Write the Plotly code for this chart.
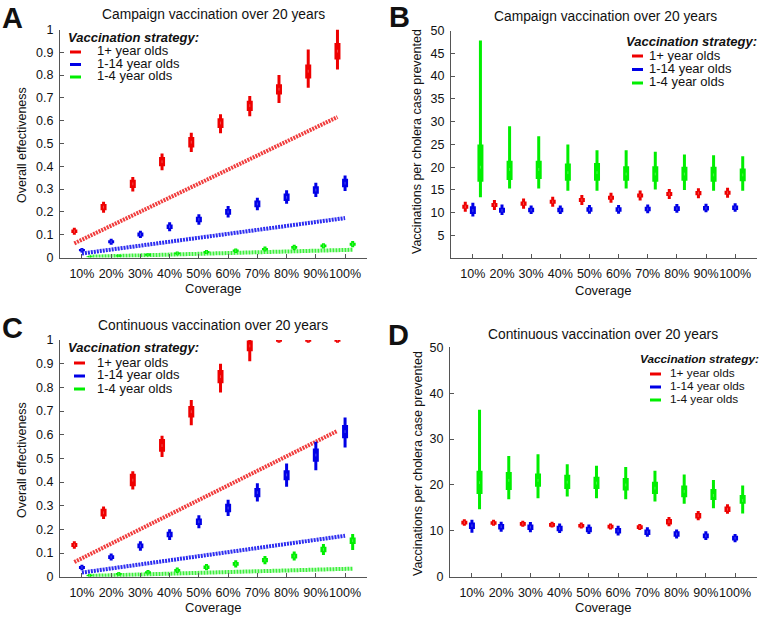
import plotly.graph_objects as go

W, H = 777, 618
FONT = "Liberation Sans, Arial, sans-serif"

coverage_labels = ["10%", "20%", "30%", "40%", "50%", "60%", "70%", "80%", "90%", "100%"]
positions = [1, 2, 3, 4, 5, 6, 7, 8, 9, 10]
strategies = ["1+ year olds", "1-14 year olds", "1-4 year olds"]

# ---------------- Panel A: campaign, overall effectiveness ----------------
A_red_med = [0.115, 0.221, 0.323, 0.420, 0.506, 0.590, 0.666, 0.738, 0.817, 0.905]
A_red_q1 = [0.107, 0.207, 0.305, 0.400, 0.482, 0.568, 0.643, 0.715, 0.785, 0.868]
A_red_q3 = [0.123, 0.235, 0.341, 0.441, 0.528, 0.611, 0.688, 0.760, 0.846, 0.941]
A_red_lo = [0.100, 0.196, 0.290, 0.383, 0.463, 0.545, 0.620, 0.678, 0.745, 0.825]
A_red_hi = [0.130, 0.245, 0.353, 0.456, 0.547, 0.628, 0.708, 0.800, 0.912, 1.000]

A_blue_med = [0.032, 0.069, 0.101, 0.135, 0.167, 0.200, 0.235, 0.264, 0.296, 0.326]
A_blue_q1 = [0.027, 0.062, 0.092, 0.125, 0.155, 0.187, 0.220, 0.248, 0.280, 0.308]
A_blue_q3 = [0.037, 0.076, 0.110, 0.145, 0.179, 0.213, 0.250, 0.281, 0.313, 0.345]
A_blue_lo = [0.022, 0.056, 0.085, 0.115, 0.144, 0.175, 0.207, 0.236, 0.265, 0.292]
A_blue_hi = [0.042, 0.082, 0.117, 0.155, 0.190, 0.226, 0.262, 0.295, 0.328, 0.360]

A_green_med = [0.004, 0.007, 0.012, 0.018, 0.024, 0.030, 0.037, 0.044, 0.051, 0.058]
A_green_q1 = [0.001, 0.004, 0.008, 0.014, 0.019, 0.025, 0.032, 0.038, 0.045, 0.051]
A_green_q3 = [0.006, 0.010, 0.016, 0.022, 0.029, 0.035, 0.042, 0.050, 0.057, 0.065]
A_green_lo = [0.000, 0.002, 0.005, 0.010, 0.015, 0.020, 0.026, 0.032, 0.039, 0.045]
A_green_hi = [0.008, 0.013, 0.019, 0.026, 0.033, 0.040, 0.048, 0.056, 0.063, 0.072]

# direct-effect reference lines (10% and 100% coverage)
direct_red = [0.062, 0.616]
direct_blue = [0.0175, 0.173]
direct_green = [0.0035, 0.034]

# ---------------- Panel B: campaign, vaccinations per case prevented ----------------
B_red_med = [11.3, 11.7, 12.0, 12.4, 12.8, 13.3, 13.8, 14.1, 14.3, 14.4]
B_red_q1 = [10.85, 11.25, 11.55, 11.95, 12.35, 12.85, 13.35, 13.65, 13.85, 13.95]
B_red_q3 = [11.75, 12.15, 12.45, 12.85, 13.25, 13.75, 14.25, 14.55, 14.75, 14.85]
B_red_lo = [10.2, 10.6, 10.9, 11.3, 11.7, 12.2, 12.7, 13.0, 13.2, 13.3]
B_red_hi = [12.4, 12.8, 13.1, 13.5, 13.9, 14.4, 14.9, 15.2, 15.4, 15.5]

B_blue_med = [10.5, 10.5, 10.6, 10.6, 10.7, 10.7, 10.8, 10.9, 11.0, 11.1]
B_blue_q1 = [9.7, 10.0, 10.1, 10.1, 10.2, 10.2, 10.3, 10.4, 10.5, 10.6]
B_blue_q3 = [11.4, 11.1, 11.1, 11.1, 11.2, 11.2, 11.3, 11.4, 11.5, 11.6]
B_blue_lo = [9.2, 9.5, 9.7, 9.7, 9.8, 9.8, 9.9, 10.0, 10.1, 10.2]
B_blue_hi = [12.2, 11.8, 11.6, 11.6, 11.7, 11.7, 11.8, 11.9, 12.0, 12.1]

B_green_med = [20.0, 19.5, 19.5, 18.8, 18.8, 18.5, 18.5, 18.5, 18.3, 18.3]
B_green_q1 = [16.8, 17.2, 17.4, 17.0, 17.0, 17.0, 16.8, 17.0, 16.8, 16.9]
B_green_q3 = [25.0, 21.4, 21.4, 20.8, 20.9, 20.2, 20.2, 20.1, 20.1, 19.7]
B_green_lo = [13.4, 15.3, 15.3, 14.8, 14.8, 15.3, 15.1, 15.0, 14.8, 14.8]
B_green_hi = [47.8, 29.0, 26.8, 25.0, 23.7, 23.7, 23.4, 22.8, 22.6, 22.4]

# ---------------- Panel C: continuous, overall effectiveness ----------------
C_red_med = [0.134, 0.270, 0.408, 0.554, 0.697, 0.845, 0.975, 1.000, 1.000, 1.000]
C_red_q1 = [0.126, 0.254, 0.382, 0.528, 0.673, 0.817, 0.952, 0.993, 0.993, 0.993]
C_red_q3 = [0.142, 0.287, 0.435, 0.582, 0.721, 0.873, 0.998, 1.010, 1.010, 1.010]
C_red_lo = [0.118, 0.244, 0.368, 0.506, 0.640, 0.778, 0.910, 0.988, 0.988, 0.988]
C_red_hi = [0.150, 0.297, 0.446, 0.596, 0.746, 0.900, 1.010, 1.020, 1.020, 1.020]

C_blue_med = [0.039, 0.083, 0.130, 0.178, 0.232, 0.290, 0.355, 0.430, 0.514, 0.613]
C_blue_q1 = [0.033, 0.075, 0.120, 0.167, 0.218, 0.272, 0.336, 0.408, 0.486, 0.585]
C_blue_q3 = [0.045, 0.091, 0.140, 0.190, 0.246, 0.308, 0.375, 0.450, 0.542, 0.641]
C_blue_lo = [0.027, 0.068, 0.110, 0.155, 0.205, 0.256, 0.318, 0.380, 0.450, 0.546]
C_blue_hi = [0.051, 0.098, 0.150, 0.200, 0.260, 0.325, 0.395, 0.478, 0.570, 0.673]

C_green_med = [0.005, 0.012, 0.018, 0.027, 0.040, 0.054, 0.070, 0.087, 0.115, 0.152]
C_green_q1 = [0.002, 0.008, 0.013, 0.021, 0.033, 0.046, 0.061, 0.077, 0.103, 0.138]
C_green_q3 = [0.008, 0.016, 0.023, 0.033, 0.047, 0.062, 0.079, 0.097, 0.127, 0.166]
C_green_lo = [0.000, 0.004, 0.009, 0.016, 0.027, 0.039, 0.053, 0.068, 0.092, 0.113]
C_green_hi = [0.011, 0.020, 0.028, 0.039, 0.054, 0.069, 0.087, 0.106, 0.138, 0.180]

# ---------------- Panel D: continuous, vaccinations per case prevented ----------------
D_red_med = [11.8, 11.7, 11.5, 11.3, 11.1, 10.9, 10.8, 12.0, 13.3, 14.7]
D_red_q1 = [11.4, 11.3, 11.1, 10.9, 10.7, 10.5, 10.4, 11.4, 12.7, 14.1]
D_red_q3 = [12.2, 12.1, 11.9, 11.7, 11.5, 11.3, 11.2, 12.6, 13.9, 15.3]
D_red_lo = [11.1, 11.1, 10.9, 10.7, 10.5, 10.3, 10.2, 11.0, 12.3, 13.7]
D_red_hi = [12.5, 12.4, 12.2, 12.0, 11.8, 11.6, 11.5, 13.0, 14.3, 15.8]

D_blue_med = [11.1, 10.9, 10.8, 10.5, 10.3, 10.0, 9.7, 9.3, 8.9, 8.4]
D_blue_q1 = [10.4, 10.3, 10.2, 9.9, 9.7, 9.4, 9.1, 8.7, 8.4, 7.9]
D_blue_q3 = [11.8, 11.5, 11.4, 11.1, 10.9, 10.6, 10.3, 9.9, 9.4, 8.9]
D_blue_lo = [9.6, 9.8, 9.7, 9.5, 9.3, 9.0, 8.7, 8.3, 8.0, 7.5]
D_blue_hi = [12.4, 12.0, 11.9, 11.6, 11.4, 11.1, 10.8, 10.3, 9.9, 9.3]

D_green_med = [20.5, 21.0, 21.0, 20.6, 20.4, 20.0, 19.3, 18.6, 17.7, 16.6]
D_green_q1 = [18.0, 18.9, 19.6, 19.1, 19.1, 18.8, 18.0, 17.3, 16.7, 15.9]
D_green_q3 = [23.1, 22.8, 22.5, 22.2, 21.8, 21.5, 20.7, 19.9, 19.1, 17.8]
D_green_lo = [14.7, 16.9, 17.1, 17.5, 17.1, 16.9, 16.4, 15.9, 14.9, 13.8]
D_green_hi = [36.4, 26.3, 26.7, 24.5, 24.2, 23.9, 23.1, 22.3, 21.1, 19.9]

RED, BLUE, GREEN = "#ee0000", "#0000e6", "#00ee00"
LINE_RED, LINE_BLUE, LINE_GREEN = "#f03c3c", "#2d2df0", "#3cf03c"
OFFSETS = [-0.26, 0.0, 0.26]
COLORS = [RED, BLUE, GREEN]

fig = go.Figure()


def px_x(p):
    return p / W


def px_y(p):
    return 1 - p / H


def add_boxes(xa, ya, pos, med, q1, q3, lo, hi, color):
    wx, wy, bx, by = [], [], [], []
    for x, a, b, c, d in zip(pos, lo, hi, q1, q3):
        wx += [x, x, None]
        wy += [a, b, None]
        bx += [x, x, None]
        by += [c, d, None]
    fig.add_trace(go.Scatter(x=wx, y=wy, mode="lines", xaxis=xa, yaxis=ya,
                             line=dict(color=color, width=3), showlegend=False,
                             hoverinfo="skip"))
    fig.add_trace(go.Scatter(x=bx, y=by, mode="lines", xaxis=xa, yaxis=ya,
                             line=dict(color=color, width=6), showlegend=False,
                             hoverinfo="skip"))
    fig.add_trace(go.Scatter(x=pos, y=med, mode="markers", xaxis=xa, yaxis=ya,
                             marker=dict(symbol="line-ns", size=2,
                                         line=dict(color="rgba(255,255,255,0.3)", width=1)),
                             showlegend=False, hoverinfo="skip"))


panels = {
    "A": [(A_red_med, A_red_q1, A_red_q3, A_red_lo, A_red_hi),
          (A_blue_med, A_blue_q1, A_blue_q3, A_blue_lo, A_blue_hi),
          (A_green_med, A_green_q1, A_green_q3, A_green_lo, A_green_hi)],
    "B": [(B_red_med, B_red_q1, B_red_q3, B_red_lo, B_red_hi),
          (B_blue_med, B_blue_q1, B_blue_q3, B_blue_lo, B_blue_hi),
          (B_green_med, B_green_q1, B_green_q3, B_green_lo, B_green_hi)],
    "C": [(C_red_med, C_red_q1, C_red_q3, C_red_lo, C_red_hi),
          (C_blue_med, C_blue_q1, C_blue_q3, C_blue_lo, C_blue_hi),
          (C_green_med, C_green_q1, C_green_q3, C_green_lo, C_green_hi)],
    "D": [(D_red_med, D_red_q1, D_red_q3, D_red_lo, D_red_hi),
          (D_blue_med, D_blue_q1, D_blue_q3, D_blue_lo, D_blue_hi),
          (D_green_med, D_green_q1, D_green_q3, D_green_lo, D_green_hi)],
}
axes_ids = {"A": ("x", "y"), "B": ("x2", "y2"), "C": ("x3", "y3"), "D": ("x4", "y4")}

# direct effect dotted lines for A and C (drawn beneath the boxes)
for key in ["A", "C"]:
    xa, ya = axes_ids[key]
    for vals, col, off in [(direct_red, LINE_RED, OFFSETS[0]),
                           (direct_blue, LINE_BLUE, OFFSETS[1]),
                           (direct_green, LINE_GREEN, OFFSETS[2])]:
        fig.add_trace(go.Scatter(x=[positions[0] + off, positions[-1] + off], y=vals,
                                 mode="lines", xaxis=xa, yaxis=ya,
                                 line=dict(color=col, width=4, dash="2px,1px"),
                                 showlegend=False, hoverinfo="skip"))

for key, series in panels.items():
    xa, ya = axes_ids[key]
    for (med, q1, q3, lo, hi), col, off in zip(series, COLORS, OFFSETS):
        pos = [p + off for p in positions]
        add_boxes(xa, ya, pos, med, q1, q3, lo, hi, col)

# ---------------- axes ----------------
AX_COL = "#555555"
tickfont = dict(family=FONT, size=12.5, color="#111111")

dom = {
    "A": ([60, 367], [29.5, 257.5]),
    "B": ([451, 757], [30.5, 258.3]),
    "C": ([60, 367], [340, 576.7]),
    "D": ([450, 757], [347.3, 576.7]),
}
yinfo = {
    "A": dict(range=[0, 1], tickvals=[0, 0.1, 0.2, 0.3, 0.4, 0.5, 0.6, 0.7, 0.8, 0.9, 1],
              ticktext=["0", "0.1", "0.2", "0.3", "0.4", "0.5", "0.6", "0.7", "0.8", "0.9", "1"]),
    "B": dict(range=[0, 50], tickvals=[5, 10, 15, 20, 25, 30, 35, 40, 45, 50],
              ticktext=["5", "10", "15", "20", "25", "30", "35", "40", "45", "50"]),
    "C": dict(range=[0, 1], tickvals=[0, 0.1, 0.2, 0.3, 0.4, 0.5, 0.6, 0.7, 0.8, 0.9, 1],
              ticktext=["0", "0.1", "0.2", "0.3", "0.4", "0.5", "0.6", "0.7", "0.8", "0.9", "1"]),
    "D": dict(range=[0, 50], tickvals=[0, 10, 20, 30, 40, 50],
              ticktext=["0", "10", "20", "30", "40", "50"]),
}

layout_axes = {}
for i, key in enumerate(["A", "B", "C", "D"]):
    (x0, x1), (y0, y1) = dom[key]
    sfx = "" if i == 0 else str(i + 1)
    layout_axes["xaxis" + sfx] = dict(
        domain=[px_x(x0), px_x(x1)], range=[0.25, 10.75], anchor="y" + sfx,
        tickvals=positions, ticktext=coverage_labels, ticks="inside", ticklen=4,
        tickcolor=AX_COL, showline=True, linecolor=AX_COL, linewidth=1,
        showgrid=False, zeroline=False, tickfont=tickfont, ticklabelstandoff=4,
        tickangle=0, automargin=False)
    layout_axes["yaxis" + sfx] = dict(
        domain=[px_y(y1), px_y(y0)], anchor="x" + sfx, ticks="inside", ticklen=4,
        tickcolor=AX_COL, showline=True, linecolor=AX_COL, linewidth=1,
        showgrid=False, zeroline=False, tickfont=tickfont, ticklabelstandoff=3,
        automargin=False, **yinfo[key])

annotations = []
shapes = []


def text(x, y, s, size=13, bold=False, italic=False, xanchor="center", angle=0):
    t = s
    if bold:
        t = "<b>" + t + "</b>"
    if italic:
        t = "<i>" + t + "</i>"
    annotations.append(dict(x=px_x(x), y=px_y(y), xref="paper", yref="paper", text=t,
                            showarrow=False, xanchor=xanchor, yanchor="middle",
                            textangle=angle, borderpad=0,
                            font=dict(family=FONT, size=size, color="#111111")))


# titles
text(213, 15, "Campaign vaccination over 20 years", size=13.8)
text(605, 16, "Campaign vaccination over 20 years", size=13.8)
text(213, 325, "Continuous vaccination over 20 years", size=13.8)
text(603, 334, "Continuous vaccination over 20 years", size=13.8)

# panel letters
text(1, 18, "A", size=29, bold=True, xanchor="left")
text(388, 17, "B", size=29, bold=True, xanchor="left")
text(1, 328, "C", size=29, bold=True, xanchor="left")
text(387, 335, "D", size=29, bold=True, xanchor="left")

# axis titles
text(213, 288, "Coverage")
text(603, 290, "Coverage")
text(213, 607, "Coverage")
text(603, 607, "Coverage")
text(22, 145, "Overall effectiveness", size=12.5, angle=-90)
text(22, 460, "Overall effectiveness", size=12.5, angle=-90)
text(417, 142, "Vaccinations per cholera case prevented", size=12.5, angle=-90)
text(418, 463, "Vaccinations per cholera case prevented", size=12.5, angle=-90)

# legends: (title_x, title_y, glyph_x0, glyph_x1, text_x, rows_y, font size)
legends = [
    (67, 37, 70, 81, 96, [51, 63.5, 76], 13),
    (625, 42, 632, 643, 648, [55, 68.5, 82], 13),
    (67, 347, 74, 85, 96, [362, 375, 388], 13),
    (639, 359, 650, 661, 669, [373, 386, 399], 11.8),
]
for tx, ty, gx0, gx1, lx, rows, fs in legends:
    text(tx, ty, "Vaccination strategy:", size=fs, bold=True, italic=True, xanchor="left")
    for name, col, ry in zip(strategies, COLORS, rows):
        shapes.append(dict(type="line", xref="paper", yref="paper",
                           x0=px_x(gx0), x1=px_x(gx1), y0=px_y(ry + 1), y1=px_y(ry + 1),
                           line=dict(color=col, width=3)))
        text(lx, ry, name, size=fs, xanchor="left")

fig.update_layout(
    width=W, height=H, margin=dict(l=0, r=0, t=0, b=0, autoexpand=False),
    paper_bgcolor="white", plot_bgcolor="white",
    showlegend=False, annotations=annotations, shapes=shapes,
    font=dict(family=FONT, size=12.5, color="#111111"),
    **layout_axes,
)

fig.write_html("out.html", config={"displayModeBar": False},
               post_script="document.body.style.margin='0';document.body.style.overflow='hidden';")
